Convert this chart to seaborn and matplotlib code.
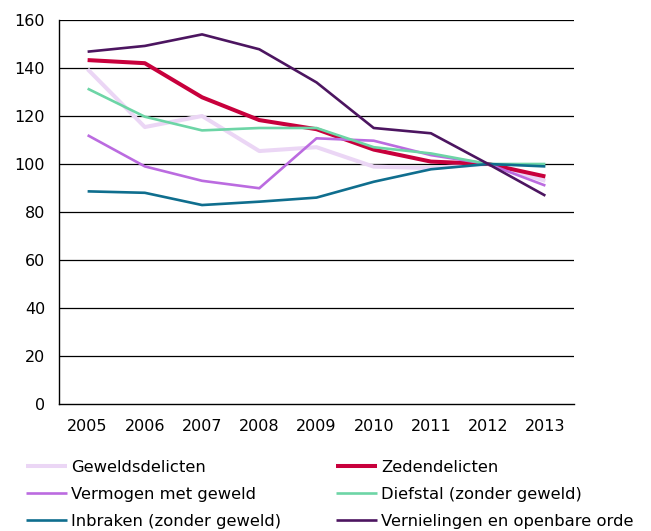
import matplotlib
matplotlib.use("Agg")
import matplotlib.pyplot as plt
import seaborn as sns
import pandas as pd

years = ["2005", "2006", "2007", "2008", "2009", "2010", "2011", "2012", "2013"]
series_names = ["Geweldsdelicten", "Zedendelicten", "Vermogen met geweld",
                "Diefstal (zonder geweld)", "Inbraken (zonder geweld)",
                "Vernielingen en openbare orde"]
geweldsdelicten = [139.5, 115.4, 120.0, 105.4, 107.0, 98.9, 98.3, 100.0, 93.0]
zedendelicten = [143.3, 142.0, 127.8, 118.3, 114.5, 106.0, 101.0, 100.0, 94.8]
vermogen = [112.0, 99.0, 93.0, 89.9, 110.7, 109.7, 103.7, 100.0, 91.0]
diefstal = [131.4, 119.7, 114.0, 115.0, 115.0, 107.0, 104.4, 100.0, 100.0]
inbraken = [88.6, 88.0, 82.9, 84.3, 86.0, 92.6, 97.8, 100.0, 99.0]
vernielingen = [146.8, 149.2, 154.0, 147.8, 134.0, 115.0, 112.8, 100.0, 86.8]
y_ticks = [0, 20, 40, 60, 80, 100, 120, 140, 160]

colors = ["#EBD6F5", "#C8003C", "#BB6BE0", "#6DD5A6", "#0F6E8E", "#4C1560"]
widths = [2.9, 2.9, 1.9, 1.9, 1.9, 1.9]

values = [geweldsdelicten, zedendelicten, vermogen, diefstal, inbraken, vernielingen]
rows = []
for name, vals in zip(series_names, values):
    for i, (yr, v) in enumerate(zip(years, vals)):
        rows.append({"idx": i, "year": yr, "series": name, "value": v})
df = pd.DataFrame(rows)

sns.set_style("white")
plt.rcParams["font.family"] = ["DejaVu Sans"]
plt.rcParams["text.color"] = "black"
plt.rcParams["xtick.color"] = "black"
plt.rcParams["ytick.color"] = "black"
FS = 11.5

fig = plt.figure(figsize=(6.51, 5.31), dpi=100)
ax = fig.add_axes([59/651, 1-404/531, (574-59)/651, (404-20)/531])

for name, col, lw in zip(series_names, colors, widths):
    sub = df[df["series"] == name]
    sns.lineplot(data=sub, x="idx", y="value", color=col, linewidth=lw,
                 ax=ax, label=name, legend=False, solid_capstyle="butt")

ax.set_xlim(-0.5, 8.5)
ax.set_ylim(0, 160)
ax.set_yticks(y_ticks)
ax.set_yticklabels([str(t) for t in y_ticks], fontsize=FS, color="black")
ax.set_xticks([i - 0.5 for i in range(len(years) + 1)])
ax.set_xticklabels([])
ax.set_xticks(range(len(years)), minor=True)
ax.set_xticklabels(years, minor=True, fontsize=FS, color="black")
ax.tick_params(axis="x", which="minor", length=0, pad=11)
ax.tick_params(axis="x", which="major", length=3, width=1, direction="out", color="black")
ax.tick_params(axis="y", length=4, width=1, direction="out", color="black", pad=6)
ax.set_xlabel("")
ax.set_ylabel("")
for t in y_ticks[1:]:
    ax.axhline(t, color="black", linewidth=0.9, zorder=0)
ax.spines["top"].set_visible(False)
ax.spines["right"].set_visible(False)
ax.spines["left"].set_color("black")
ax.spines["bottom"].set_color("black")
ax.spines["left"].set_linewidth(1)
ax.spines["bottom"].set_linewidth(1)

handles, labels = ax.get_legend_handles_labels()
common = dict(loc="upper left", frameon=False, fontsize=11.8, handlelength=2.5,
              handletextpad=0.25, labelspacing=0.72, borderaxespad=0, borderpad=0,
              labelcolor="black")
fig.legend([handles[i] for i in (0, 2, 4)], [labels[i] for i in (0, 2, 4)],
           bbox_to_anchor=(26/651, 1-460/531), **common)
fig.legend([handles[i] for i in (1, 3, 5)], [labels[i] for i in (1, 3, 5)],
           bbox_to_anchor=(336/651, 1-460/531), **common)

fig.savefig("out.png", dpi=100)
